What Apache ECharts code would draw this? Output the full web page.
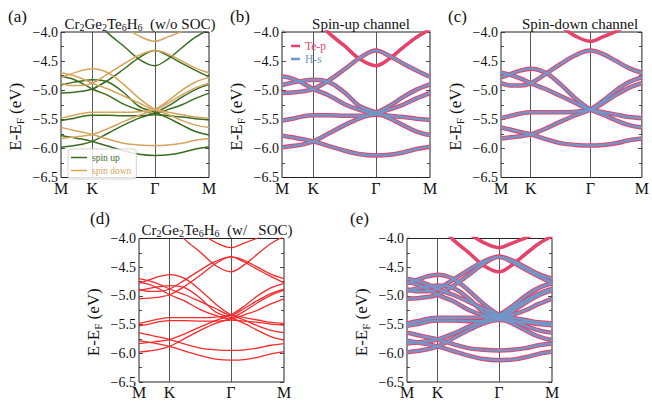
<!DOCTYPE html>
<html>
<head>
<meta charset="utf-8">
<script src="https://cdn.jsdelivr.net/npm/echarts@6/dist/echarts.min.js"></script>
<style>
html,body{margin:0;padding:0;background:#fff}
#chart{width:652px;height:406px}
</style>
</head>
<body>
<div id="chart"></div>
<script>
// k-path M-K-Γ-M (units of 2π/a, segment lengths 0.333 / 0.667 / 0.577)
const kPath = [0, 0.111, 0.222, 0.333, 0.5, 0.667, 0.833, 1.0, 1.144, 1.289, 1.433, 1.577];
const kTickPos = [0, 0.333, 1.0, 1.577];
const kTickNames = ['M', 'K', '\u0393', 'M'];
const eMin = -6.5, eMax = -4.0, eStep = 0.5;

// spin-up bands (eV), sampled along kPath
const upTeP = [-3.96, -3.85, -3.76, -3.74, -4.02, -4.24, -4.47, -4.58, -4.46, -4.27, -4.09, -3.96];
const upB1 = [-5.05, -5.04, -5.02, -4.98, -4.83, -4.64, -4.44, -4.32, -4.41, -4.54, -4.66, -4.77];
const upB2 = [-4.76, -4.80, -4.88, -4.98, -5.09, -5.24, -5.34, -5.40, -5.33, -5.25, -5.14, -5.05];
const upB3 = [-4.91, -4.87, -4.84, -4.82, -4.86, -5.04, -5.28, -5.38, -5.48, -5.60, -5.71, -5.77];
const upB4 = [-5.52, -5.49, -5.45, -5.43, -5.43, -5.44, -5.44, -5.42, -5.44, -5.46, -5.49, -5.51];
const upB5 = [-5.98, -5.96, -5.93, -5.88, -5.74, -5.60, -5.48, -5.39, -5.27, -5.12, -4.99, -4.90];
const upB6 = [-5.78, -5.81, -5.84, -5.88, -5.96, -6.04, -6.10, -6.12, -6.11, -6.07, -6.01, -5.97];

// spin-down bands (eV), sampled along kPath
const dnTeP = [-3.70, -3.62, -3.58, -3.58, -3.72, -3.90, -4.07, -4.16, -4.08, -3.99, -3.86, -3.72];
const dnB1 = [-4.88, -4.92, -4.92, -4.88, -4.72, -4.55, -4.40, -4.32, -4.38, -4.50, -4.62, -4.70];
const dnB2 = [-4.70, -4.74, -4.80, -4.88, -4.98, -5.10, -5.22, -5.33, -5.22, -5.08, -4.96, -4.88];
const dnB3 = [-4.78, -4.72, -4.66, -4.63, -4.70, -4.90, -5.14, -5.33, -5.42, -5.52, -5.60, -5.64];
const dnB4 = [-5.48, -5.44, -5.40, -5.38, -5.38, -5.38, -5.37, -5.34, -5.38, -5.42, -5.46, -5.48];
const dnB5 = [-5.83, -5.81, -5.79, -5.76, -5.66, -5.54, -5.43, -5.33, -5.18, -5.00, -4.86, -4.78];
const dnB6 = [-5.64, -5.68, -5.72, -5.76, -5.84, -5.91, -5.94, -5.95, -5.94, -5.91, -5.86, -5.83];

const upHs = [upB1, upB2, upB3, upB4, upB5, upB6];
const dnHs = [dnB1, dnB2, dnB3, dnB4, dnB5, dnB6];

const FONT = 'Liberation Serif, DejaVu Serif, serif';
const C_UP = '#3b6b1f', C_DN = '#d6a45c', C_TE = '#e6436b', C_H = '#6f98c9', C_SOC = '#f42b2b';

const grids = [
  {left: 61, top: 32, width: 148, height: 145.5},
  {left: 282, top: 32, width: 148, height: 145.5},
  {left: 501, top: 32, width: 147, height: 145.5},
  {left: 139, top: 238.5, width: 145, height: 143.5},
  {left: 407, top: 238.5, width: 145, height: 143.5}
].map(g => Object.assign(g, {show: true, borderColor: '#222', borderWidth: 1, backgroundColor: 'transparent', containLabel: false}));

function xAxisFor(i) {
  return {
    gridIndex: i, type: 'value', min: 0, max: kTickPos[kTickPos.length - 1],
    axisLine: {show: false}, splitLine: {show: false}, axisTick: {show: false},
    axisLabel: {
      customValues: kTickPos, showMinLabel: true, showMaxLabel: true,
      fontFamily: FONT, fontSize: 16, lineHeight: 13, color: '#111', margin: 4,
      formatter: v => {
        const idx = kTickPos.findIndex(t => Math.abs(t - v) < 1e-6);
        return idx >= 0 ? kTickNames[idx] : '';
      }
    }
  };
}

function yAxisFor(i, right) {
  return {
    gridIndex: i, type: 'value', position: right ? 'right' : 'left',
    min: eMin, max: eMax, interval: eStep,
    axisLine: {show: false}, splitLine: {show: false},
    axisTick: {show: true, inside: true, length: 4, lineStyle: {color: '#222', width: 0.8}},
    minorTick: {show: true, splitNumber: 2, length: 3, lineStyle: {color: '#222', width: 0.8}},
    axisLabel: {
      show: !right, fontFamily: FONT, fontSize: 14, lineHeight: 9, color: '#111', margin: 3,
      formatter: v => v.toFixed(1).replace('-', '\u2212')
    },
    name: right ? '' : 'E-E{s|F} (eV)',
    nameLocation: 'middle', nameGap: 36, nameRotate: 90,
    nameTextStyle: {
      fontFamily: FONT, fontSize: 17, color: '#111', padding: [0, 24, 0, 0],
      rich: {s: {fontFamily: FONT, fontSize: 11, color: '#111', padding: [8, 0, 0, 0]}}
    }
  };
}

const xAxes = [], yAxes = [];
for (let i = 0; i < 5; i++) {
  xAxes.push(xAxisFor(i));
  yAxes.push(yAxisFor(i, false));
  yAxes.push(yAxisFor(i, true));
}

function pts(band) { return kPath.map((k, j) => [k, band[j]]); }

function bandLine(gi, band, color, width, name, z) {
  return {
    type: 'line', name: name, xAxisIndex: gi, yAxisIndex: gi * 2,
    data: pts(band), smooth: 0.35, showSymbol: false, symbol: 'none',
    lineStyle: {color: color, width: width}, itemStyle: {color: color},
    silent: true, animation: false, clip: true, z: z
  };
}

// vertical guides at K and Γ
function guides(gi, color, width) {
  return {
    type: 'line', xAxisIndex: gi, yAxisIndex: gi * 2, data: [], silent: true, animation: false,
    markLine: {
      silent: true, symbol: 'none', animation: false, z: 1,
      label: {show: false},
      lineStyle: {color: color, width: width, type: 'solid'},
      data: [{xAxis: kTickPos[1]}, {xAxis: kTickPos[2]}]
    }
  };
}

const series = [];
for (let g = 0; g < 5; g++) series.push(guides(g, '#444', 0.9));

// (a) spin-resolved bands without SOC
upHs.concat([upTeP]).forEach(b => series.push(bandLine(0, b, C_UP, 1.5, 'spin up', 3)));
dnHs.concat([dnTeP]).forEach(b => series.push(bandLine(0, b, C_DN, 1.5, 'spin down', 3)));

// (b), (c) orbital-projected channels; (e) both channels with SOC
function fatPanel(gi, tePBands, hsBands) {
  tePBands.forEach(b => series.push(bandLine(gi, b, C_TE, 3.6, 'Te-p', 2)));
  hsBands.forEach(b => series.push(bandLine(gi, b, C_TE, 4.5, 'Te-p', 2)));
  hsBands.forEach(b => series.push(bandLine(gi, b, C_H, 2.4, 'H-s', 4)));
}
fatPanel(1, [upTeP], upHs);
fatPanel(2, [dnTeP], dnHs);

// (d) bands with SOC
upHs.concat([upTeP], dnHs, [dnTeP]).forEach(b => series.push(bandLine(3, b, C_SOC, 1.3, 'SOC', 3)));

fatPanel(4, [upTeP, dnTeP], upHs.concat(dnHs));

const txt = (size) => ({fontFamily: FONT, fontSize: size, fontWeight: 'normal', color: '#111'});
const formulaRich = {s: {fontFamily: FONT, fontSize: 10, color: '#111', padding: [7, 0, 0, 0]}};

const option = {
  backgroundColor: '#fff',
  animation: false,
  grid: grids,
  xAxis: xAxes,
  yAxis: yAxes,
  title: [
    {text: '(a)', left: 3, top: 3, textStyle: txt(17)},
    {text: '(b)', left: 225, top: 3, textStyle: txt(17)},
    {text: '(c)', left: 443, top: 3, textStyle: txt(17)},
    {text: '(d)', left: 85, top: 205, textStyle: txt(17)},
    {text: '(e)', left: 345, top: 205, textStyle: txt(17)},
    {text: 'Cr{s|2}Ge{s|2}Te{s|6}H{s|6}  (w/o SOC)', left: 135, top: 10, textAlign: 'center',
     textStyle: Object.assign(txt(15), {rich: formulaRich})},
    {text: 'Spin-up channel', left: 356, top: 11, textAlign: 'center', textStyle: txt(15)},
    {text: 'Spin-down channel', left: 575, top: 11, textAlign: 'center', textStyle: txt(15)},
    {text: 'Cr{s|2}Ge{s|2}Te{s|6}H{s|6}  (w/   SOC)', left: 212, top: 216, textAlign: 'center',
     textStyle: Object.assign(txt(15), {rich: formulaRich})}
  ],
  legend: [
    {
      left: 68, top: 149, orient: 'vertical', selectedMode: false, icon: 'rect',
      itemWidth: 16, itemHeight: 1.5, itemGap: 2, padding: [3, 5, 3, 3],
      borderColor: '#c8c8c8', borderWidth: 0.8, borderRadius: 3,
      backgroundColor: 'rgba(255,255,255,0.85)',
      textStyle: {fontFamily: FONT, fontSize: 9.5, lineHeight: 11},
      data: [
        {name: 'spin up', textStyle: {color: C_UP}},
        {name: 'spin down', textStyle: {color: C_DN}}
      ]
    },
    {
      left: 291, top: 40, orient: 'vertical', selectedMode: false, icon: 'rect',
      itemWidth: 9, itemHeight: 2.5, itemGap: 1, padding: 0,
      textStyle: {fontFamily: FONT, fontSize: 11.5, lineHeight: 11},
      data: [
        {name: 'Te-p', textStyle: {color: C_TE}},
        {name: 'H-s', textStyle: {color: C_H}}
      ]
    }
  ],
  series: series
};

const chart = echarts.init(document.getElementById('chart'), null, {renderer: 'svg', width: 652, height: 406});
chart.setOption(option);
</script>
</body>
</html>
